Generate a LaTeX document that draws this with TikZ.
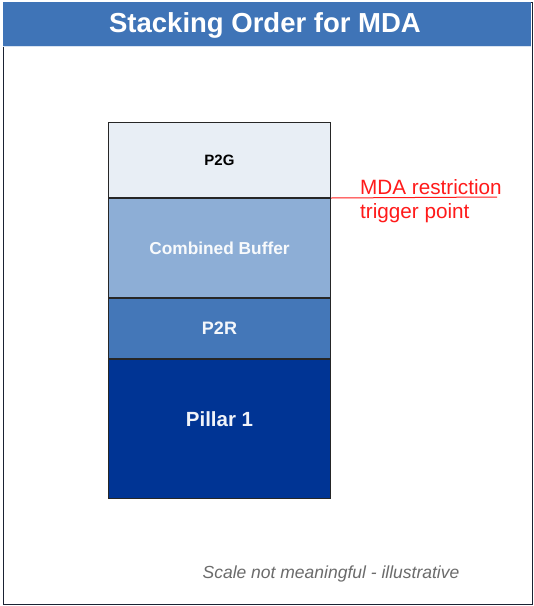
\documentclass[tikz,border=0pt]{standalone}
\usepackage{fontspec}
\setmainfont{Liberation Sans}
\definecolor{titlebar}{HTML}{3F74B7}
\definecolor{frameline}{HTML}{1A2233}
\definecolor{pgcol}{HTML}{E8EEF5}
\definecolor{cbcol}{HTML}{8DAED6}
\definecolor{prcol}{HTML}{4477B8}
\definecolor{picol}{HTML}{003494}
\definecolor{redline}{HTML}{FF1A1A}
\definecolor{footgray}{HTML}{6B6B6B}
\begin{document}
\begin{tikzpicture}[x=1pt,y=-1pt,
  layer/.style={draw=black!85,line width=1pt,minimum width=222pt,anchor=north west,inner sep=0pt,font=\bfseries},
  redlabel/.style={text=redline,anchor=west,inner sep=0pt,font=\fontsize{20.7}{24}\selectfont}]
\useasboundingbox (0,0) rectangle (534,606);
\fill[white] (0,0) rectangle (534,606);
% frame and title bar
\node[draw=frameline,line width=1.6pt,fill=white,minimum width=529pt,minimum height=602pt,anchor=north west,inner sep=0pt] (frame) at (2.5,1.5) {};
\fill[titlebar] (3.3,2.3) rectangle (530.7,46);
\draw[white!80!titlebar,line width=0.8pt] (3.3,46.5) -- (530.7,46.5);
\node[text=white,font=\bfseries\fontsize{27.5}{31}\selectfont] (title) at (265,25.5) {Stacking Order for MDA};
% stack
\node[layer,fill=pgcol,minimum height=75pt,font=\bfseries\fontsize{15}{18}\selectfont] (p2g) at (108,122) {P2G};
\node[layer,fill=cbcol,minimum height=99pt,text=white!94!cbcol,font=\bfseries\fontsize{17.3}{20}\selectfont] (cb) at (p2g.south west) {Combined Buffer};
\node[layer,fill=prcol,minimum height=60pt,text=white!94!prcol,font=\bfseries\fontsize{18}{21}\selectfont] (p2r) at (cb.south west) {P2R};
\node[layer,fill=picol,minimum height=139pt,text=white!94!picol,font=\bfseries\fontsize{20.5}{24}\selectfont] (pil) at (p2r.south west) {\raisebox{20pt}{Pillar 1}};
% trigger point
\coordinate (lineend) at (497,197);
\draw[redline,line width=1pt] (p2g.south east) -- (lineend);
\node[redlabel] (mda) at (360,187) {MDA restriction};
\node[redlabel] (trig) at (360,213) {trigger point};
% footer
\node[text=footgray,font=\itshape\fontsize{17.5}{20}\selectfont] (foot) at (331,574) {Scale not meaningful - illustrative};
\end{tikzpicture}
\end{document}
